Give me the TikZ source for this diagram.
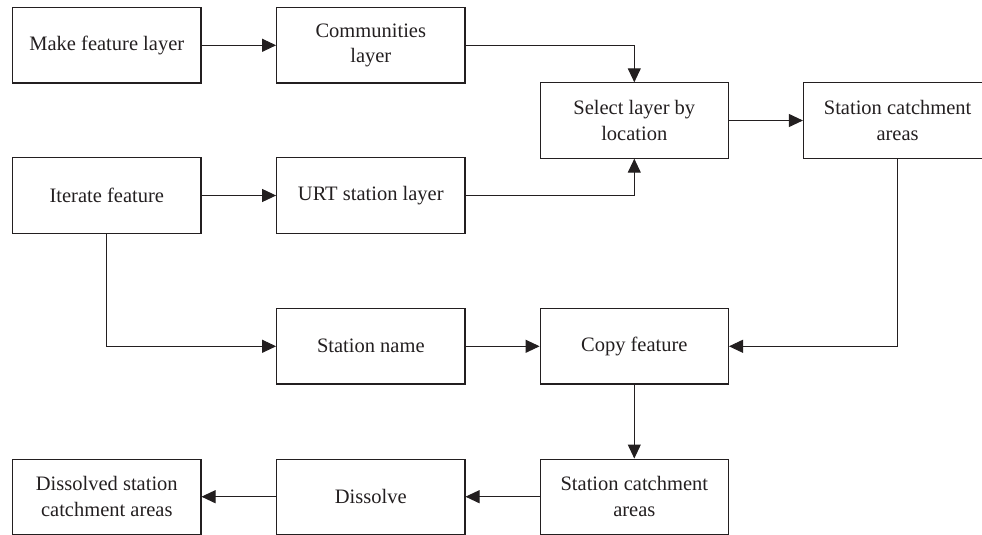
\documentclass[tikz,border=0pt]{standalone}
\usepackage{fontspec}
\setmainfont{Liberation Serif}
\usetikzlibrary{arrows.meta}
\definecolor{ink}{HTML}{231F20}
\begin{document}
\begin{tikzpicture}[x=1pt,y=-1pt,
  box/.style={draw=ink, line width=1.1pt, minimum width=188.3pt, minimum height=75.3pt,
    inner sep=0pt, align=center, text=ink, font=\fontsize{20.5}{25.6}\selectfont},
  conn/.style={draw=ink, line width=1pt, -{Triangle[length=14pt,width=13pt]}}]
\useasboundingbox (0,0) rectangle (982,535);
\clip (0,0) rectangle (982,535);
\node[box] (make) at (106.8,45.3) {Make feature layer};
\node[box] (comm) at (370.8,45.3) {Communities\\layer};
\node[box] (sel) at (634.3,120.5) {Select layer by\\location};
\node[box] (sca) at (897.6,120.5) {Station catchment\\areas};
\node[box] (iter) at (106.8,195.5) {Iterate feature};
\node[box] (urt) at (370.8,195.5) {URT station layer};
\node[box] (sname) at (370.8,346.3) {Station name};
\node[box] (copy) at (634.3,346.3) {Copy feature};
\node[box] (scb) at (634.3,496.7) {Station catchment\\areas};
\node[box] (diss) at (370.8,496.7) {Dissolve};
\node[box] (dsca) at (106.8,496.7) {Dissolved station\\catchment areas};
\draw[conn] (make) -- (comm);
\draw[conn] (comm.east) -| (sel.north);
\draw[conn] (iter) -- (urt);
\draw[conn] (urt.east) -| (sel.south);
\draw[conn] (sel) -- (sca);
\draw[conn] (sca.south) |- (copy.east);
\draw[conn] (iter.south) |- (sname.west);
\draw[conn] (sname) -- (copy);
\draw[conn] (copy) -- (scb);
\draw[conn] (scb) -- (diss);
\draw[conn] (diss) -- (dsca);
\end{tikzpicture}
\end{document}
